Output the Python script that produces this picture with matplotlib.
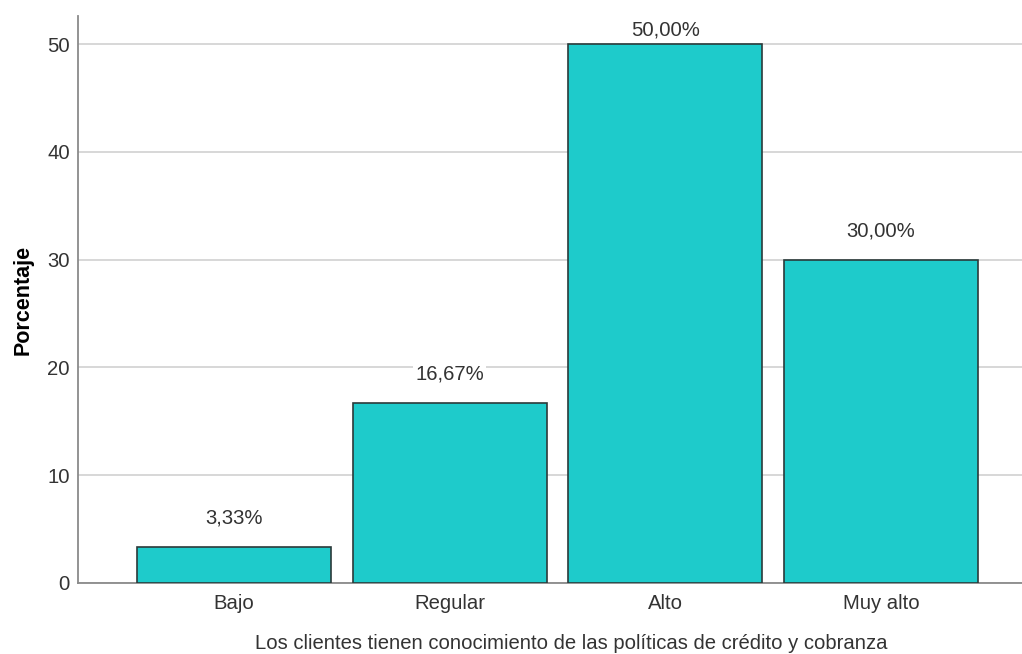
import numpy as np
import matplotlib
matplotlib.use('Agg')
import matplotlib.pyplot as plt

plt.rcParams['font.family'] = ['Liberation Sans', 'DejaVu Sans']

##############################################################
# Data.
##############################################################
categories = ['Bajo', 'Regular', 'Alto', 'Muy alto']
percentages = [3.33, 16.67, 50.00, 30.00]
y_ticks = [0, 10, 20, 30, 40, 50]
x_title = 'Los clientes tienen conocimiento de las políticas de crédito y cobranza'
y_title = 'Porcentaje'

bar_color = '#1ecbcb'
edge_color = '#2b3a3a'
grid_color = '#d4d4d4'
spine_color = '#8a8a8a'
text_color = '#333333'
text_size = 14.6

fig = plt.figure(figsize=(10.22, 6.54), dpi=100)
ax = fig.add_axes([0.0763, 0.1086, 1.0 - 0.0763, 0.9755 - 0.1086])

x = np.arange(len(categories))
ax.bar(x, percentages, width=0.9, color=bar_color, edgecolor=edge_color,
       linewidth=1.2, zorder=3)

ax.set_xlim(-0.723, 3.654)
ax.set_ylim(0, 52.6)
ax.set_yticks(y_ticks)
ax.set_yticklabels([str(t) for t in y_ticks])
ax.set_xticks(x)
ax.set_xticklabels(categories)
ax.tick_params(axis='both', length=0, colors=text_color, labelsize=text_size)
ax.tick_params(axis='y', pad=6)
ax.tick_params(axis='x', pad=8)

ax.yaxis.grid(True, color=grid_color, linewidth=1.3, zorder=0)
ax.set_axisbelow(True)
for side in ['top', 'right']:
  ax.spines[side].set_visible(False)
for side in ['left', 'bottom']:
  ax.spines[side].set_color(spine_color)
  ax.spines[side].set_linewidth(1.3)

# value labels, kept inside the plot area for the tallest bar
for (xi, v) in zip(x, percentages):
  label_y = min(v + 2.7, 51.3)
  ax.text(xi, label_y, ('%.2f%%' % v).replace('.', ','), ha='center', va='center',
          fontsize=text_size, color=text_color, zorder=4,
          bbox=dict(boxstyle='square,pad=0.1', facecolor='white', edgecolor='none'))

ax.set_ylabel(y_title, fontsize=15.5, fontweight='bold', color='black', labelpad=10)
ax.set_xlabel(x_title, fontsize=text_size, color=text_color)
ax.xaxis.set_label_coords(0.522, -0.090, transform=ax.transAxes)
ax.xaxis.label.set_va('top')

fig.savefig('out.png', dpi=100)
